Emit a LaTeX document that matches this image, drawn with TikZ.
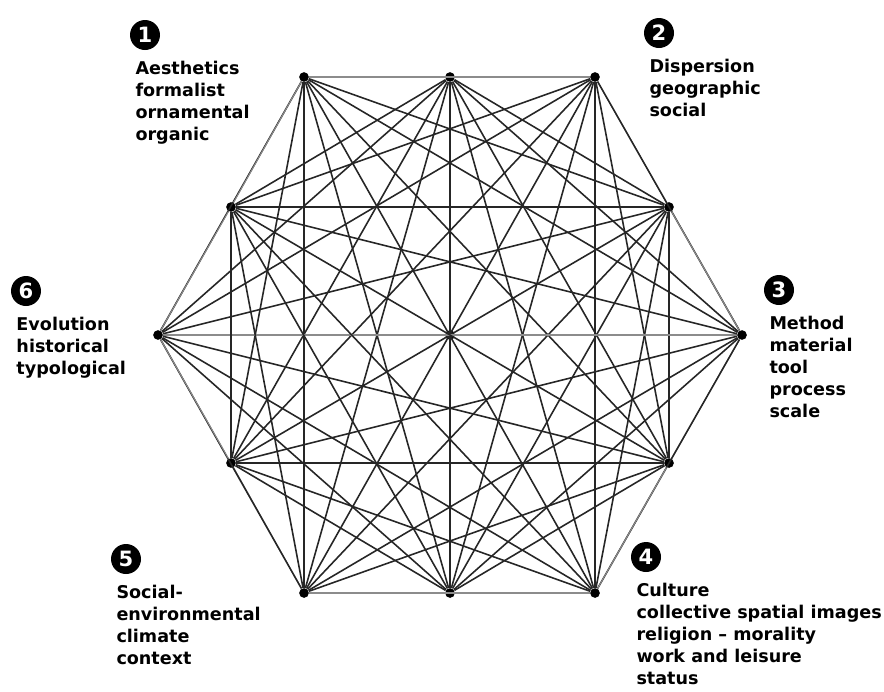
\documentclass[tikz,border=0pt]{standalone}
\usepackage{fontspec}
\setmainfont{DejaVu Sans}
\usetikzlibrary{positioning}

\begin{document}
\begin{tikzpicture}[x=0.02cm,y=-0.02cm,
    dot/.style={circle,fill=black,inner sep=0pt,minimum size=5.5pt},
    link/.style={black!85,line width=0.9pt},
    faint/.style={black!45,line width=0.6pt},
    num/.style={circle,fill=black,text=white,inner sep=0pt,minimum size=0.6cm,font=\bfseries\large},
    facet/.style={align=left,inner sep=0pt,font=\bfseries\fontsize{10}{12.5}\selectfont}]
    \useasboundingbox (0,0) rectangle (884,691);
    % the thirteen points
    \node[dot] (t1) at (304,77)  {};
    \node[dot] (t2) at (450,77)  {};
    \node[dot] (t3) at (595,77)  {};
    \node[dot] (ul) at (231,207) {};
    \node[dot] (ur) at (669,207) {};
    \node[dot] (l)  at (158,335) {};
    \node[dot] (c)  at (450,335) {};
    \node[dot] (r)  at (742,335) {};
    \node[dot] (ll) at (231,463) {};
    \node[dot] (lr) at (669,463) {};
    \node[dot] (b1) at (304,593) {};
    \node[dot] (b2) at (450,593) {};
    \node[dot] (b3) at (595,593) {};
    % every point linked to every other
    \foreach \a [count=\i] in {t1,t2,t3,ur,r,lr,b3,b2,b1,ll,l,ul}
      \foreach \b [count=\j] in {t1,t2,t3,ur,r,lr,b3,b2,b1,ll,l,ul}
      {
        \ifnum\j>\i
          \pgfmathtruncatemacro\f{((\j-\i)==1)||((\j-\i)==11)||(\i==1&&\j==3)||(\i==7&&\j==9)||(\i==5&&\j==11)}
          \ifnum\f=1 \draw[faint] (\a) -- (\b); \else \draw[link] (\a) -- (\b); \fi
        \fi
      }
    % the six facets
    \node[num] (n1) at (145,35)  {1};
    \node[num] (n2) at (659,33)  {2};
    \node[num] (n3) at (779,290) {3};
    \node[num] (n4) at (646,557) {4};
    \node[num] (n5) at (126,559) {5};
    \node[num] (n6) at (26,291)  {6};
    \node[facet] (f1) [below right=0.3cm and 0.02cm of n1.south west,anchor=north west]
        {Aesthetics\\formalist\\ornamental\\organic};
    \node[facet] (f2) [below right=0.3cm and 0.02cm of n2.south west,anchor=north west]
        {Dispersion\\geographic\\social};
    \node[facet] (f3) [below right=0.3cm and 0.02cm of n3.south west,anchor=north west]
        {Method\\material\\tool\\process\\scale};
    \node[facet] (f4) [below right=0.3cm and 0.02cm of n4.south west,anchor=north west]
        {Culture\\collective spatial images\\religion -- morality\\work and leisure\\status};
    \node[facet] (f5) [below right=0.3cm and 0.02cm of n5.south west,anchor=north west]
        {Social-\\environmental\\climate\\context};
    \node[facet] (f6) [below right=0.3cm and 0.02cm of n6.south west,anchor=north west]
        {Evolution\\historical\\typological};
\end{tikzpicture}
\end{document}
